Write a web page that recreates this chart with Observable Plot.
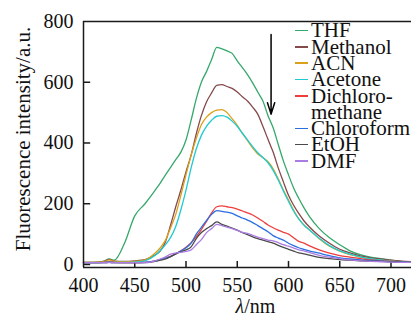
<!DOCTYPE html>
<html>
<head>
<meta charset="utf-8">
<script src="https://cdn.jsdelivr.net/npm/d3@7"></script>
<script src="https://cdn.jsdelivr.net/npm/@observablehq/plot@0.6"></script>
<style>
  body { margin: 0; background: white; }
  #wrap { position: relative; width: 411px; height: 327px; overflow: hidden; background: white; }
  #wrap svg { position: absolute; left: 0; top: 0; }
  #legend { position: absolute; left: 295px; top: 22.4px; font-family: 'Liberation Serif', serif; font-size: 21px; line-height: 16.3px; white-space: nowrap; color: #111; }
  .row { display: flex; align-items: center; height: 16.3px; }
  .sw { display: inline-block; width: 13px; height: 1.6px; margin-right: 3px; }
  .nosw { display: inline-block; width: 16px; }
  .lt { display: inline-block; height: 16.3px; line-height: 16.3px; overflow: visible; }
</style>
</head>
<body>
<div id="wrap"><div id="legend"></div></div>
<script>
const wavelength = [400,410,420,425,430,440,450,460,470,475,480,485,490,495,500,505,510,515,520,525,530,535,540,545,550,555,560,565,570,575,580,585,590,595,600,605,610,615,620,630,640,650,660,670,680,690,700,710,720];

const thf        = [7,7,11,18,14,70,160,200,245,269,295,320,345,370,410,475,545,600,635,675,715,710,703,695,670,648,625,598,568,538,490,450,395,341,295,252,218,187,160,118,88,65,45,32,24,19,14,10,7];
const methanol   = [7,7,10,17,11,10,12,16,32,45,75,130,190,245,305,360,430,490,535,565,590,592,586,580,568,552,538,518,495,455,412,370,318,272,228,195,168,144,125,94,70,50,38,28,22,18,14,11,9];
const acn        = [7,7,9,15,10,9,10,15,38,55,80,121,165,228,295,360,415,460,485,500,508,510,500,480,458,432,408,384,364,352,338,315,282,245,212,178,150,130,115,85,60,44,32,24,18,14,11,9,7];
const acetone    = [6,6,7,9,7,7,8,12,30,46,65,89,125,180,245,318,380,425,455,475,488,490,485,472,455,432,410,388,368,352,335,310,278,242,208,176,150,130,115,86,62,45,34,25,19,15,11,9,7];
const dcm        = [6,6,7,8,7,6,6,7,12,17,22,27,35,45,57,72,92,115,142,170,190,193,190,187,182,176,170,163,153,142,130,121,113,106,100,88,76,70,62,48,37,29,24,19,15,12,10,8,7];
const chloroform = [6,6,6,7,6,6,6,7,12,16,21,26,35,44,55,70,100,122,145,165,177,175,172,168,160,153,146,138,128,118,108,95,87,80,70,62,55,50,45,37,29,22,18,15,13,11,9,8,7];
const etoh       = [6,6,6,7,6,6,6,6,10,14,18,26,35,42,48,58,85,105,118,128,140,132,126,120,113,105,98,91,85,80,75,70,63,56,50,44,38,35,31,23,19,16,14,12,11,10,9,8,7];
const dmf        = [6,6,6,7,6,6,6,6,12,18,25,34,38,40,43,48,65,82,105,118,132,128,123,118,112,106,102,96,90,85,80,78,72,65,60,54,48,45,40,30,24,19,15,12,10,9,8,7,7];

const seriesNames  = ["THF","Methanol","ACN","Acetone","Dichloromethane","Chloroform","EtOH","DMF"];
const seriesValues = [thf, methanol, acn, acetone, dcm, chloroform, etoh, dmf];
const seriesColors = ["#35a86b","#84494b","#d9a11c","#1fcad3","#ef3d3d","#2a6fe2","#4a4a4a","#ab7de2"];
const legendLines  = [["THF"],["Methanol"],["ACN"],["Acetone"],["Dichloro-","methane"],["Chloroform"],["EtOH"],["DMF"]];

const xTicks = [400,450,500,550,600,650,700];
const yTicks = [0,200,400,600,800];
const arrowData = [{x: 583, y1: 757, y2: 495}];
const yTitle = "Fluorescence intensity/a.u.";

const data = seriesNames.flatMap((name, si) =>
  wavelength.map((w, i) => ({series: name, wl: w, value: seriesValues[si][i]})));

const frameColor = "#1a1a1a";
const svg = Plot.plot({
  width: 411, height: 327,
  marginLeft: 83, marginRight: 0, marginTop: 21, marginBottom: 60,
  x: {domain: [400, 720]},
  y: {domain: [-10, 800]},
  color: {domain: seriesNames, range: seriesColors},
  style: {fontFamily: "'Liberation Serif', serif", background: "white", color: "#111"},
  marks: [
    Plot.axisX({ticks: xTicks, tickSize: 0, tickPadding: 10, fontSize: 20, label: null}),
    Plot.axisY({ticks: yTicks, tickSize: 0, tickPadding: 10, fontSize: 20, label: null}),
    Plot.ruleX(xTicks.slice(1), {y1: -10, y2: 10, stroke: frameColor, strokeWidth: 1.5}),
    Plot.ruleY(yTicks.slice(0, -1), {x1: 400, x2: 407, stroke: frameColor, strokeWidth: 1.5}),
    Plot.line(data, {x: "wl", y: "value", z: "series", stroke: "series", strokeWidth: 1.3, curve: "monotone-x"}),
    Plot.ruleY([800], {stroke: frameColor, strokeWidth: 1.5}),
    Plot.ruleY([-10], {stroke: frameColor, strokeWidth: 1.5}),
    Plot.ruleX([400], {stroke: frameColor, strokeWidth: 1.5}),
    Plot.arrow(arrowData, {x1: "x", y1: "y1", x2: "x", y2: "y2", stroke: "black", strokeWidth: 1.5, headLength: 12, headAngle: 35}),
    Plot.text(["λ/nm"], {text: d => d, frameAnchor: "bottom", dy: 45, dx: 8, fontSize: 20})
  ]
});
document.getElementById("wrap").prepend(svg);

// y-axis title (rotated)
d3.select(svg).append("text")
  .attr("transform", "translate(23,139) rotate(-90)")
  .attr("text-anchor", "middle")
  .attr("dominant-baseline", "central")
  .attr("font-family", "'Liberation Serif', serif")
  .attr("font-size", 21)
  .attr("fill", "#111")
  .text(yTitle);

// italic lambda in the x title
const xt = [...svg.querySelectorAll("text")].find(e => e.textContent === "λ/nm");
if (xt) {
  xt.textContent = "";
  const ns = "http://www.w3.org/2000/svg";
  const t1 = document.createElementNS(ns, "tspan"); t1.setAttribute("font-style", "italic"); t1.textContent = "λ";
  const t2 = document.createElementNS(ns, "tspan"); t2.textContent = "/nm";
  xt.append(t1, t2);
}

// legend
const legend = d3.select("#legend");
legendLines.forEach((lines, i) => {
  lines.forEach((line, j) => {
    const row = legend.append("div").attr("class", "row");
    if (j === 0) row.append("span").attr("class", "sw").style("background", seriesColors[i]);
    else row.append("span").attr("class", "nosw");
    row.append("span").attr("class", "lt").text(line);
  });
});
</script>
</body>
</html>
